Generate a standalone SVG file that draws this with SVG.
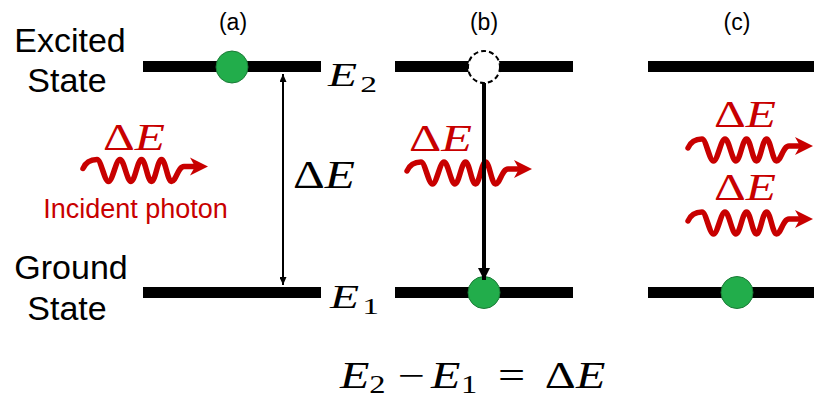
<svg xmlns="http://www.w3.org/2000/svg" width="814" height="400" viewBox="0 0 814 400">
<style>
.sans{font-family:"Liberation Sans",Arial,sans-serif;fill:#000}
.lbl{font-size:34px;text-anchor:middle}
.pl{font-size:23px;text-anchor:middle}
.math{font-family:"Liberation Serif","Times New Roman",serif;fill:#000}
.it{font-style:italic}
.red{fill:#C80000}
.bar{fill:#000}
.e{fill:#22AD4B;stroke:#1B7B37;stroke-width:1}
.hole{fill:#fff;stroke:#000;stroke-width:2;stroke-dasharray:5 3}
.wave{fill:none;stroke:#C80000;stroke-width:5.5;stroke-linecap:round;stroke-linejoin:round}
.wavehead{fill:#C80000}
.conn{stroke:#000;fill:none}
</style>
<defs>
<g id="photon">
<path class="wave" d="M0,-2 C3,-9 8,-11 14,-11 C18,-11 21.5,11 25.5,11 C29.5,11 33,-11 37,-11 C41,-11 44,11 48,11 C52,11 54.5,-11 58.5,-11 C62.5,-11 64.5,11 68.5,11 C72.5,11 74.5,-11 78.5,-11 C82.5,-11 84.5,11 88.5,11 C93,11 95,-4 101,-4 L114,-4"/>
<path class="wavehead" d="M125,-4 L107,-13 L112,-4 L107,5 Z"/>
</g>
<marker id="ah" markerUnits="userSpaceOnUse" markerWidth="8" markerHeight="7" refX="8" refY="3.5" orient="auto-start-reverse">
<path d="M0,0 L8,3.5 L0,7 Z" fill="#000"/>
</marker>
<marker id="ahb" markerUnits="userSpaceOnUse" markerWidth="12" markerHeight="12" refX="12" refY="6" orient="auto">
<path d="M0,0 L12,6 L0,12 Z" fill="#000"/>
</marker>
</defs>
<rect width="814" height="400" fill="#fff"/>

<g id="state-labels">
<text class="sans lbl" x="70" y="52">Excited</text>
<text class="sans lbl" x="67" y="92">State</text>
<text class="sans lbl" x="71" y="279">Ground</text>
<text class="sans lbl" x="67" y="320">State</text>
</g>

<g id="panel-a">
<text class="sans pl" x="233" y="30">(a)</text>
<rect class="bar" x="143" y="61" width="178" height="11"/>
<rect class="bar" x="143" y="287" width="178" height="11"/>
<circle class="e" cx="232" cy="67" r="16"/>
<g transform="translate(328,86) scale(1.4,1)"><text class="math" font-size="34"><tspan class="it" x="0">E</tspan><tspan x="23" dy="6" font-size="24">2</tspan></text></g>
<g transform="translate(330,308) scale(1.4,1)"><text class="math" font-size="34"><tspan class="it" x="0">E</tspan><tspan x="23" dy="6" font-size="24">1</tspan></text></g>
<text class="math" x="293" y="188" font-size="40" textLength="62" lengthAdjust="spacingAndGlyphs">Δ<tspan class="it">E</tspan></text>
</g>

<g id="photon-a">
<text class="math red" x="103" y="150" font-size="38" textLength="62" lengthAdjust="spacingAndGlyphs">Δ<tspan class="it">E</tspan></text>
<use href="#photon" x="83" y="170.5"/>
<text class="sans red" x="135.5" y="218" font-size="27" text-anchor="middle">Incident photon</text>
</g>

<g id="panel-b">
<text class="sans pl" x="484" y="30">(b)</text>
<rect class="bar" x="395" y="61" width="178" height="11"/>
<rect class="bar" x="395" y="287" width="178" height="11"/>
<circle class="hole" cx="484" cy="67" r="16"/>
<circle class="e" cx="484" cy="292.5" r="16"/>
</g>

<g id="photon-b">
<text class="math red" x="409" y="151" font-size="38" textLength="63" lengthAdjust="spacingAndGlyphs">Δ<tspan class="it">E</tspan></text>
<use href="#photon" x="407" y="173"/>
</g>

<g id="panel-c">
<text class="sans pl" x="737" y="30">(c)</text>
<rect class="bar" x="648" y="61" width="166" height="11"/>
<rect class="bar" x="648" y="287" width="166" height="11"/>
<circle class="e" cx="737" cy="292.5" r="16"/>
</g>

<g id="photons-c">
<text class="math red" x="714" y="127" font-size="38" textLength="62" lengthAdjust="spacingAndGlyphs">Δ<tspan class="it">E</tspan></text>
<use href="#photon" x="688" y="150"/>
<text class="math red" x="714" y="200" font-size="38" textLength="62" lengthAdjust="spacingAndGlyphs">Δ<tspan class="it">E</tspan></text>
<use href="#photon" x="688" y="223"/>
</g>

<g id="equation" transform="translate(340,388) scale(1.3,1)">
<text class="math" font-size="37"><tspan class="it" x="0">E</tspan><tspan x="22.5" dy="5" font-size="25">2</tspan><tspan x="44.5" dy="-5">−</tspan><tspan class="it" x="70">E</tspan><tspan x="93" dy="5" font-size="25">1</tspan><tspan x="121.5" dy="-5">=</tspan><tspan x="157.5">Δ</tspan><tspan class="it" x="181.5">E</tspan></text>
</g>

<g id="connectors">
<line class="conn" x1="283" y1="74" x2="283" y2="285" stroke-width="2" marker-start="url(#ah)" marker-end="url(#ah)"/>
<line class="conn" x1="484" y1="83" x2="484" y2="280" stroke-width="4" marker-end="url(#ahb)"/>
</g>
</svg>
